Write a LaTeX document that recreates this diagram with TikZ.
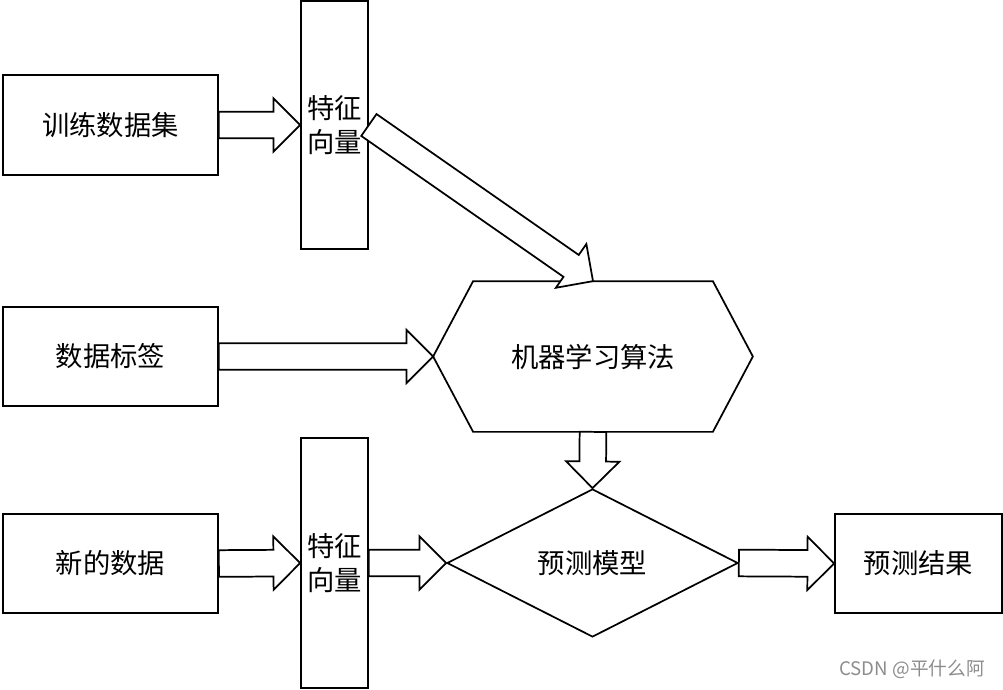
\documentclass[tikz,border=0pt]{standalone}
\usepackage{fontspec}
\setmainfont{Noto Sans CJK SC}
\newfontfamily\cjk{Noto Sans CJK SC}
\usetikzlibrary{calc,shapes.geometric}
\tikzset{
  lw/.style={line width=1.3pt},
  boxnode/.style={lw,draw,rectangle,inner sep=0pt,font=\cjk\fontsize{20.5}{25}\selectfont,align=center},
  fat/.style={lw,draw,fill=white,line join=miter},
}
% block arrow from #1 to #2 (coordinates / anchors)
\newcommand\blockarrow[2]{%
  \coordinate (ba-s) at (#1);
  \coordinate (ba-e) at (#2);
  \coordinate (ba-h) at ($(ba-e)!20pt!(ba-s)$);
  \draw[fat] ($(ba-s)!10pt!90:(ba-e)$) -- ($(ba-h)!10pt!-90:(ba-s)$)
    -- ($(ba-h)!20pt!-90:(ba-s)$) -- (ba-e) -- ($(ba-h)!20pt!90:(ba-s)$)
    -- ($(ba-h)!10pt!90:(ba-s)$) -- ($(ba-s)!10pt!-90:(ba-e)$) -- cycle;
}
\begin{document}
\begin{tikzpicture}[x=0.75pt,y=-0.75pt]
\useasboundingbox (0,0) rectangle (1003,689);
% boxes
\node[boxnode,minimum width=161.25pt,minimum height=75pt] (train) at (110.5,125) {训练数据集};
\node[boxnode,minimum width=161.25pt,minimum height=74.25pt] (label) at (110.5,356.5) {数据标签};
\node[boxnode,minimum width=161.25pt,minimum height=74.25pt] (newdata) at (110.5,563.5) {新的数据};
\node[boxnode,minimum width=50.25pt,minimum height=186pt] (feat1) at (334.5,125) {特征\\向量};
\node[boxnode,minimum width=50.25pt,minimum height=187.5pt] (feat2) at (334.5,563) {特征\\向量};
\node[boxnode,minimum width=125.25pt,minimum height=74.25pt] (result) at (918.5,563.5) {预测结果};
% hexagon
\node[boxnode,draw=none,minimum width=238.5pt,minimum height=111.75pt] (algo) at (593,356.5) {机器学习算法};
\draw[lw,line join=miter] (algo.west) -- ($(algo.north west)+(40,0)$) -- ($(algo.north east)+(-40,0)$)
  -- (algo.east) -- ($(algo.south east)+(-40,0)$) -- ($(algo.south west)+(40,0)$) -- cycle;
% diamond
\node[lw,draw,diamond,aspect=2,inner sep=0pt,minimum width=218.25pt,minimum height=111pt,
  font=\cjk\fontsize{20.5}{25}\selectfont] (model) at (592.5,563) {预测模型};
% block arrows
\blockarrow{train.east}{feat1.west}
\blockarrow{newdata.east}{feat2.west}
\blockarrow{feat1.east}{algo.north}
\blockarrow{label.east}{algo.west}
\blockarrow{algo.south}{model.north}
\blockarrow{feat2.east}{model.west}
\blockarrow{model.east}{result.west}
% watermark
\node[text=black!45,font=\cjk\fontsize{14}{16}\selectfont,inner sep=0pt] (wm) at (912,669) {CSDN @平什么阿};
\end{tikzpicture}
\end{document}
